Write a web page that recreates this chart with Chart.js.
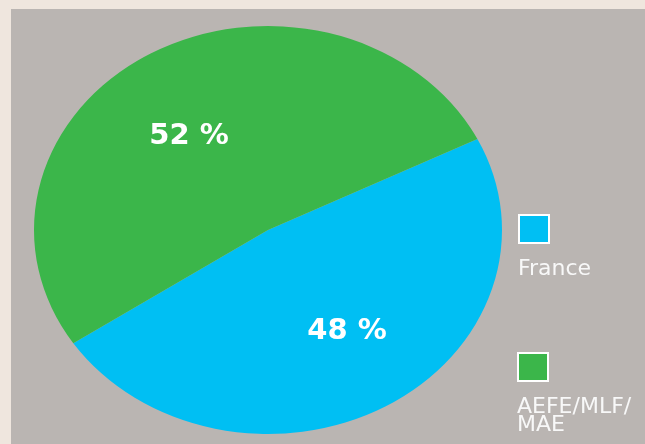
<!DOCTYPE html>
<html>
<head>
<meta charset="utf-8">
<script src="https://cdn.jsdelivr.net/npm/chart.js@4/dist/chart.umd.min.js"></script>
<style>
  html, body { margin: 0; padding: 0; }
  body { width: 645px; height: 444px; background: #efe6de; position: relative; overflow: hidden; }
  #panel { position: absolute; left: 11px; top: 9px; width: 640px; height: 440px; background: #bab5b2; }
  #wrap { position: absolute; left: 0; top: 0; width: 645px; height: 444px; }
  .lg-box { position: absolute; width: 28px; height: 26px; border: 2px solid #ffffff; }
  .lg-text { position: absolute; color: #f8f8f8; font-family: "DejaVu Sans", sans-serif; font-size: 22px; line-height: 18px; white-space: nowrap; }
</style>
</head>
<body>
<div id="panel"></div>
<div id="wrap"><canvas id="pie" width="645" height="444"></canvas></div>
<div id="legend"></div>
<script>
// Data
var labels = ['France', 'AEFE/MLF/\nMAE'];
var values = [48, 52];
var colors = ['#00bff3', '#3bb64a'];

// pie is drawn as an ellipse: stretch x around the center
var stretchX = 234 / 204;

var ellipsePlugin = {
    id: 'ellipse',
    beforeDatasetsDraw: function(chart) {
        var meta = chart.getDatasetMeta(0);
        var cx = meta.data[0].x;
        var ctx = chart.ctx;
        ctx.save();
        ctx.translate(cx, 0);
        ctx.scale(stretchX, 1);
        ctx.translate(-cx, 0);
    },
    afterDatasetsDraw: function(chart) {
        chart.ctx.restore();
    },
    afterDraw: function(chart) {
        var ctx = chart.ctx;
        var meta = chart.getDatasetMeta(0);
        ctx.save();
        ctx.fillStyle = '#ffffff';
        ctx.font = 'bold 29px "DejaVu Sans", sans-serif';
        ctx.textAlign = 'center';
        ctx.textBaseline = 'middle';
        meta.data.forEach(function(arc, i) {
            var mid = (arc.startAngle + arc.endAngle) / 2 - 0.09;
            var r = arc.outerRadius * 0.585;
            var x = arc.x + Math.cos(mid) * r * stretchX;
            var y = arc.y + Math.sin(mid) * r + 4;
            ctx.fillText(values[i] + ' %', x, y);
        });
        ctx.restore();
    }
};

new Chart(document.getElementById('pie'), {
    type: 'pie',
    data: {
        labels: labels,
        datasets: [{
            data: values,
            backgroundColor: colors,
            borderWidth: 0
        }]
    },
    options: {
        responsive: false,
        animation: false,
        rotation: 63.5,
        layout: { padding: { left: 64, top: 26, right: 173, bottom: 10 } },
        plugins: {
            legend: { display: false },
            tooltip: { enabled: false }
        }
    },
    plugins: [ellipsePlugin]
});

// legend: box above the label
var legendPos = [[518, 214], [517, 352]];
var legend = document.getElementById('legend');
labels.forEach(function(lab, i) {
    var box = document.createElement('div');
    box.className = 'lg-box';
    box.style.left = legendPos[i][0] + 'px';
    box.style.top = legendPos[i][1] + 'px';
    box.style.background = colors[i];
    legend.appendChild(box);
    var txt = document.createElement('div');
    txt.className = 'lg-text';
    txt.style.left = legendPos[i][0] + 'px';
    txt.style.top = (legendPos[i][1] + 45) + 'px';
    txt.innerHTML = lab.replace('\n', '<br>');
    legend.appendChild(txt);
});
</script>
</body>
</html>
